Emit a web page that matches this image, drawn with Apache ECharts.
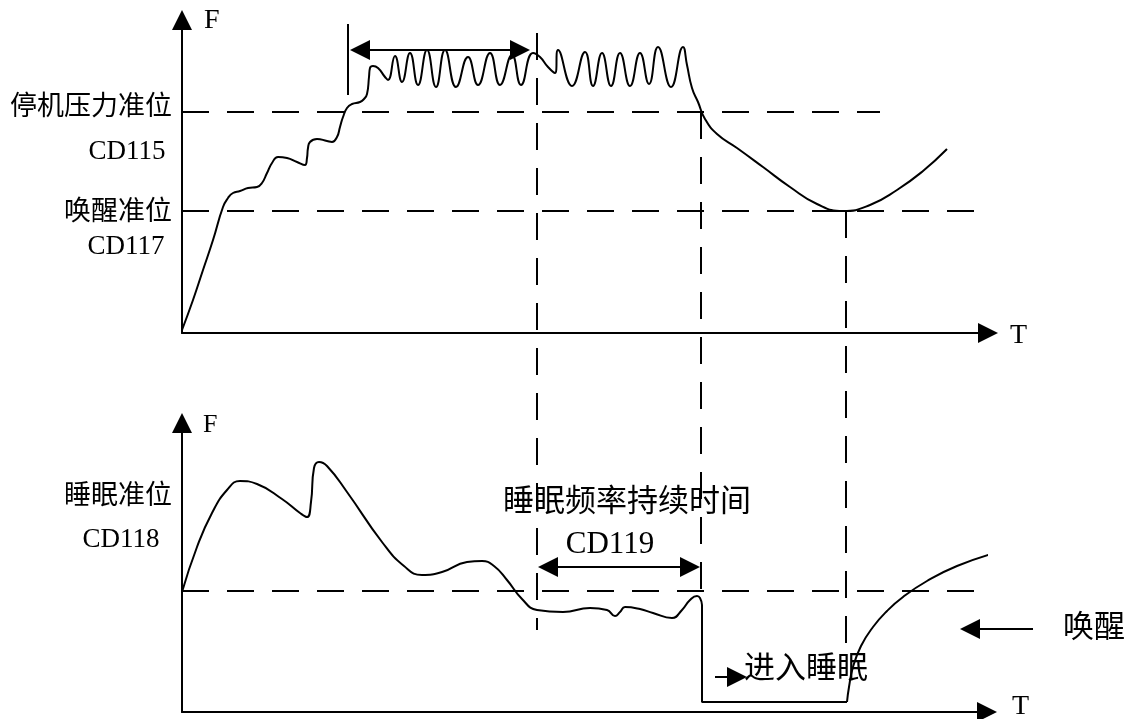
<!DOCTYPE html>
<html>
<head>
<meta charset="utf-8">
<title>睡眠唤醒</title>
<script src="https://cdn.jsdelivr.net/npm/echarts@6/dist/echarts.min.js"></script>
<style>
  html, body { margin: 0; padding: 0; background: #fff; }
  #main { width: 1126px; height: 719px; }
</style>
</head>
<body>
<div id="main"></div>
<script>
// top chart: pressure F over time T  [t, F]
var pressureCurve = [
  [0, 3], [11, 33], [21, 63], [31, 93], [41, 126], [46, 135], [51, 140], [58, 142],
  [66, 145], [75, 146], [80, 150], [85, 160], [90, 170], [96, 176], [105, 175],
  [115, 171], [123, 168], [125, 175], [126, 185], [128, 191], [135, 194], [145, 192],
  [150, 191], [155, 196], [158, 206], [161, 216], [165, 225], [170, 229], [178, 231],
  [182, 234], [185, 239], [187, 256], [188, 265], [191, 267], [196, 265], [203, 256],
  [206, 253],
  [213, 277], [220, 251], [228, 280], [236, 248], [245, 283], [254, 246], [263, 283],
  [274, 246], [286, 276], [296, 248], [308, 280], [318, 248], [330, 278], [339, 248],
  [351, 280], [358, 276], [366, 266], [373, 260], [376, 283], [390, 247], [403, 281],
  [411, 247], [420, 280], [429, 247], [438, 280], [448, 247], [458, 280], [467, 249],
  [476, 286], [489, 246], [501, 286],
  [505, 268], [510, 245], [516, 231], [523, 214], [535, 199], [555, 185], [581, 166],
  [608, 146], [635, 129], [661, 122], [688, 128], [715, 143], [741, 162], [765, 184]
];
var stopLevel = 221;   // 停机压力准位 CD115
var wakeLevel = 122;   // 唤醒准位 CD117
var stopStart = 355;   // vertical marks (T)
var stopCross = 519;
var wakeCross = 664;
var windowStart = 166;

// bottom chart: frequency F over time T
var freqCurve = [
  [0, 120], [15, 165], [30, 199], [45, 222], [58, 231], [75, 228], [100, 213],
  [118, 199], [125, 195], [129, 210], [132, 244], [137, 250], [145, 246], [165, 220],
  [200, 170], [222, 146], [240, 137], [260, 140], [285, 150], [300, 151], [312, 146],
  [325, 132], [340, 113], [355, 102], [381, 100], [408, 104], [425, 102], [433, 96],
  [438, 100], [443, 105], [458, 103], [471, 99], [490, 94], [500, 102], [508, 112],
  [515, 116], [518, 114], [520, 107]
];
var freqDrop = [[520, 107], [520, 10], [665, 10]];
var freqWake = [
  [665, 10], [667, 25], [671, 45], [679, 66], [691, 85], [705, 101], [721, 115],
  [745, 131], [775, 146], [813, 159]
];
var sleepLevel = 121;  // 睡眠准位 CD118

var chart = echarts.init(document.getElementById('main'));

var black = '#000';
var font = '"Liberation Serif", "Noto Sans CJK SC", serif';
var dash = [27, 18];

function axis(grid, max) {
  return {
    type: 'value', gridIndex: grid, min: 0, max: max,
    axisLine: {
      show: true, onZero: false,
      symbol: ['none', 'triangle'], symbolSize: [20, 20],
      lineStyle: { color: black, width: 2 }
    },
    axisTick: { show: false },
    axisLabel: { show: false },
    splitLine: { show: false }
  };
}
function curve(data, grid, smooth) {
  return {
    type: 'line', xAxisIndex: grid, yAxisIndex: grid, data: data,
    smooth: smooth, symbol: 'none', clip: false, silent: true,
    lineStyle: { color: black, width: 2 }
  };
}
function dashed(data, grid) {
  var s = curve(data, grid, false);
  s.lineStyle.type = dash;
  return s;
}
function arrow(coords, grid, both) {
  return {
    type: 'lines', coordinateSystem: 'cartesian2d', xAxisIndex: grid, yAxisIndex: grid,
    symbol: [both ? 'triangle' : 'none', 'triangle'], symbolSize: [20, 20],
    symbolOffset: [0, 10], silent: true, clip: false,
    lineStyle: { color: black, width: 2, opacity: 1 },
    itemStyle: { color: black },
    data: [{ coords: coords }]
  };
}
function label(text, x, y, size, align) {
  return {
    type: 'text', silent: true,
    style: {
      text: text, x: x, y: y, fill: black, align: align || 'left',
      verticalAlign: 'middle', font: size + 'px ' + font
    }
  };
}

chart.setOption({
  animation: false,
  backgroundColor: '#fff',
  grid: [
    { left: 182, top: 20, width: 806, height: 313 },
    { left: 182, top: 423, width: 805, height: 289 }
  ],
  xAxis: [axis(0, 806), axis(1, 805)],
  yAxis: [axis(0, 313), axis(1, 289)],
  series: [
    curve(pressureCurve, 0, 0.5),
    dashed([[0, stopLevel], [698, stopLevel]], 0),
    dashed([[0, wakeLevel], [793, wakeLevel]], 0),
    dashed([[stopStart, 300], [stopStart, -297]], 0),
    dashed([[stopCross, stopLevel], [stopCross, -267]], 0),
    dashed([[wakeCross, wakeLevel], [wakeCross, -312]], 0),
    curve([[windowStart, 309], [windowStart, 238]], 0, false),
    arrow([[178, 283], [338, 283]], 0, true),

    curve(freqCurve, 1, 0.5),
    curve(freqDrop, 1, false),
    curve(freqWake, 1, 0.5),
    dashed([[0, sleepLevel], [811, sleepLevel]], 1),
    arrow([[366, 145], [508, 145]], 1, true),
    arrow([[533, 35], [555, 35]], 1, false),
    arrow([[851, 83], [788, 83]], 1, false)
  ],
  graphic: [
    label('F', 204, 21, 28),
    label('T', 1010, 336, 28),
    label('F', 203, 425, 26),
    label('T', 1012, 707, 28),
    label('停机压力准位', 172, 108, 27, 'right'),
    label('CD115', 127, 152, 27, 'center'),
    label('唤醒准位', 172, 213, 27, 'right'),
    label('CD117', 126, 247, 27, 'center'),
    label('睡眠准位', 172, 497, 27, 'right'),
    label('CD118', 121, 540, 27, 'center'),
    label('睡眠频率持续时间', 627, 503, 31, 'center'),
    label('CD119', 610, 545, 31, 'center'),
    label('进入睡眠', 744, 670, 31),
    label('唤醒', 1063, 629, 31)
  ]
});
</script>
</body>
</html>
